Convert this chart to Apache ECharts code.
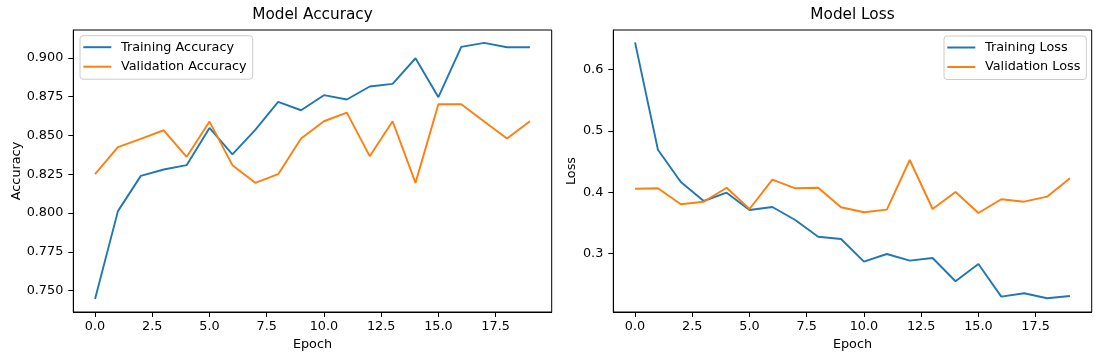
<!DOCTYPE html>
<html>
<head>
<meta charset="utf-8">
<script src="https://cdn.jsdelivr.net/npm/echarts@6/dist/echarts.min.js"></script>
<style>
html,body{margin:0;padding:0;background:#fff;}
#chart{width:1100px;height:361px;}
</style>
</head>
<body>
<div id="chart"></div>
<script>
const epochs = [0,1,2,3,4,5,6,7,8,9,10,11,12,13,14,15,16,17,18,19];
const trainAcc = [0.7447,0.8013,0.8240,0.8281,0.8309,0.8549,0.8378,0.8537,0.8717,0.8663,0.8760,0.8732,0.8816,0.8833,0.8998,0.8747,0.9071,0.9097,0.9069,0.9069];
const valAcc = [0.8251,0.8425,0.8478,0.8534,0.8362,0.8590,0.8309,0.8195,0.8251,0.8481,0.8592,0.8648,0.8367,0.8592,0.8195,0.8702,0.8702,0.8590,0.8481,0.8592];
const trainLoss = [0.6447,0.4696,0.4169,0.3859,0.3995,0.3713,0.3762,0.3550,0.3277,0.3240,0.2870,0.2995,0.2886,0.2930,0.2550,0.2833,0.2300,0.2355,0.2273,0.2310];
const valLoss = [0.4060,0.4066,0.3806,0.3848,0.4076,0.3729,0.4207,0.4066,0.4076,0.3757,0.3675,0.3718,0.4528,0.3729,0.4006,0.3664,0.3887,0.3848,0.3930,0.4230];
const xTicks = [0,2.5,5,7.5,10,12.5,15,17.5];
const accTicks = [0.750,0.775,0.800,0.825,0.850,0.875,0.900];
const lossTicks = [0.3,0.4,0.5,0.6];
const titles = ['Model Accuracy','Model Loss'];
const yNames = ['Accuracy','Loss'];
const xName = 'Epoch';

const FONT = 'DejaVu Sans';
const BLUE = '#1f77b4', ORANGE = '#ff7f0e';
const pair = (arr) => epochs.map((e,i)=>[e, arr[i]]);

function xAxis(gi){
  return {
    type:'value', gridIndex:gi, min:-0.95, max:19.95,
    name:xName, nameLocation:'middle', nameGap:25,
    nameTextStyle:{fontFamily:FONT,fontSize:12.8,color:'#000'},
    axisLine:{show:true,onZero:false,lineStyle:{color:'#000',width:1}},
    axisTick:{show:true,inside:false,length:5,customValues:xTicks,lineStyle:{color:'#000',width:1}},
    axisLabel:{customValues:xTicks,margin:8,fontFamily:FONT,fontSize:12.8,color:'#000',formatter:v=>Number(v).toFixed(1)},
    splitLine:{show:false}
  };
}
function yAxis(gi,min,max,ticks,dec,gap){
  return {
    type:'value', gridIndex:gi, min:min, max:max,
    name:yNames[gi], nameLocation:'middle', nameGap:gap, nameRotate:90,
    nameTextStyle:{fontFamily:FONT,fontSize:12.8,color:'#000'},
    axisLine:{show:true,onZero:false,lineStyle:{color:'#000',width:1}},
    axisTick:{show:true,inside:false,length:5,customValues:ticks,lineStyle:{color:'#000',width:1}},
    axisLabel:{customValues:ticks,margin:10,fontFamily:FONT,fontSize:12.8,color:'#000',formatter:v=>Number(v).toFixed(dec)},
    splitLine:{show:false}
  };
}
function legend(left,top,names){
  return {
    orient:'vertical', left:left, top:top, data:names,
    icon:'rect', itemWidth:28, itemHeight:2, itemGap:6.5,
    padding:[5,6,6,3.3],
    backgroundColor:'rgba(255,255,255,0.8)', borderColor:'#cccccc', borderWidth:1, borderRadius:3,
    textStyle:{fontFamily:FONT,fontSize:12.8,color:'#000',padding:[0,0,0,4.7]},
    selectedMode:false
  };
}
function line(name,arr,color,xi){
  return {type:'line',name:name,xAxisIndex:xi,yAxisIndex:xi,data:pair(arr),
    symbol:'none',showSymbol:false,lineStyle:{color:color,width:1.9},itemStyle:{color:color},
    animation:false,silent:true};
}

const chart = echarts.init(document.getElementById('chart'),null,{renderer:'canvas'});
chart.setOption({
  backgroundColor:'#fff',
  animation:false,
  grid:[
    {left:73.3,top:30,width:478.4,height:282,show:true,borderColor:'#000',borderWidth:1,backgroundColor:'#fff',outerBoundsMode:'none'},
    {left:613.3,top:30,width:478.4,height:282,show:true,borderColor:'#000',borderWidth:1,backgroundColor:'#fff',outerBoundsMode:'none'}
  ],
  xAxis:[xAxis(0),xAxis(1)],
  yAxis:[
    yAxis(0,0.7363,0.9180,accTicks,3,50),
    yAxis(1,0.2049,0.6648,lossTicks,1,35)
  ],
  legend:[
    legend(80,35.7,['Training Accuracy','Validation Accuracy']),
    legend(944,36,['Training Loss','Validation Loss'])
  ],
  graphic:[
    {type:'text',x:312.5,y:8,style:{text:titles[0],textAlign:'center',textVerticalAlign:'top',fontFamily:FONT,fontSize:15.3,fill:'#000'}},
    {type:'text',x:852.5,y:8,style:{text:titles[1],textAlign:'center',textVerticalAlign:'top',fontFamily:FONT,fontSize:15.3,fill:'#000'}}
  ],
  series:[
    line('Training Accuracy',trainAcc,BLUE,0),
    line('Validation Accuracy',valAcc,ORANGE,0),
    line('Training Loss',trainLoss,BLUE,1),
    line('Validation Loss',valLoss,ORANGE,1)
  ]
});
</script>
</body>
</html>
